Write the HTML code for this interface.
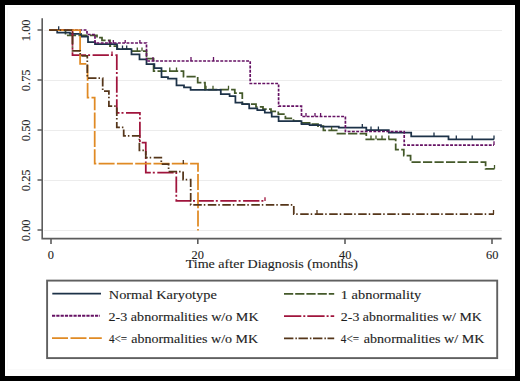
<!DOCTYPE html>
<html><head><meta charset="utf-8">
<style>
html,body{margin:0;padding:0;background:#000;width:520px;height:381px;overflow:hidden}
svg{display:block}
text{font-family:"Liberation Serif",serif;fill:#1e1e1e;stroke:#1e1e1e;stroke-width:0.12px}
</style></head>
<body>
<svg width="520" height="381" viewBox="0 0 520 381">
<rect x="0" y="0" width="520" height="381" fill="#000"/>
<rect x="5" y="5" width="510" height="371" fill="#fff"/>
<!-- faint outer frame -->
<rect x="7.5" y="7.5" width="505" height="362" fill="none" stroke="#fafafa" stroke-width="1"/>
<!-- gridlines -->
<g stroke="#ececec" stroke-width="1">
<line x1="44" y1="30.5" x2="502" y2="30.5"/>
<line x1="44" y1="80.5" x2="502" y2="80.5"/>
<line x1="44" y1="130.5" x2="502" y2="130.5"/>
<line x1="44" y1="180.5" x2="502" y2="180.5"/>
<line x1="44" y1="230.5" x2="502" y2="230.5"/>
</g>
<!-- axes -->
<g stroke="#5c5c5c" stroke-width="1.6" fill="none">
<path d="M42.2,18.3 V238.6 H501.6"/>
<path d="M37.5,30 H42 M37.5,80 H42 M37.5,130 H42 M37.5,180 H42 M37.5,230 H42"/>
<path d="M51,238.6 V244.1 M197.8,238.6 V244.1 M345,238.6 V244.1 M492,238.6 V244.1"/>
</g>
<!-- y labels -->
<g font-size="12.4" text-anchor="middle" style="stroke:none;fill:#333">
<text transform="translate(29.8,30.2) rotate(-90)" x="-11" textLength="21.8" lengthAdjust="spacingAndGlyphs" text-anchor="start">1.00</text>
<text transform="translate(29.8,80.2) rotate(-90)" x="-11" textLength="21.8" lengthAdjust="spacingAndGlyphs" text-anchor="start">0.75</text>
<text transform="translate(29.8,130.2) rotate(-90)" x="-11" textLength="21.8" lengthAdjust="spacingAndGlyphs" text-anchor="start">0.50</text>
<text transform="translate(29.8,180.2) rotate(-90)" x="-11" textLength="21.8" lengthAdjust="spacingAndGlyphs" text-anchor="start">0.25</text>
<text transform="translate(29.8,230.2) rotate(-90)" x="-11" textLength="21.8" lengthAdjust="spacingAndGlyphs" text-anchor="start">0.00</text>
</g>
<g font-size="12.4" text-anchor="middle" style="stroke:none;fill:#333">
<text x="50.9" y="259.3">0</text>
<text x="197.8" y="259.3">20</text>
<text x="345.3" y="259.3">40</text>
<text x="492.2" y="259.3">60</text>
</g>
<text x="185.7" y="268.4" font-size="12.7" textLength="172.3" lengthAdjust="spacingAndGlyphs">Time after Diagnosis (months)</text>

<!-- curves -->
<g fill="none" stroke-width="1.75" stroke-linejoin="miter" stroke-linecap="butt">
<!-- green 1 abnormality -->
<path stroke="#44592a" stroke-dasharray="9.2 2.3" d="M49.2,30 H65.5 V35.3 H97 V37.6 H102 V40.3 H110 V46.2 H117.3 V49.2 H131.5 V51.2 H146.5 V58.6 H153.6 V71.2 H183.5 V76.7 H197.7 V82.5 H205 V89.6 H234.8 V93.1 H242.3 V104.2 H256 V106.9 H263 V109.2 H271 V111.3 H278.3 V114.2 H285.4 V118.3 H293.5 V121.1 H301.5 V122.9 H309.6 V124.2 H318 V126 H323.4 V130.4 H337.5 V133.6 H366.3 V139.3 H395.7 V149.5 H403.8 V155.6 H410.6 V162.2 H485.6 V168.8 H494.5"/>
<!-- blue normal -->
<path stroke="#1d3248" d="M49.2,30 H57.2 V32.7 H70 V33.8 H81 V36.6 H88 V42.2 H95 V44.2 H117 V49.2 H131.5 V54.3 H139.5 V59.3 H146.5 V64.1 H154.4 V68 H161.5 V77.2 H168 V78.6 H176.5 V85.4 H184 V87.3 H190.6 V89.8 H220.8 V94 H229.6 V96 H235.4 V102.5 H242.3 V104 H249.2 V108.4 H257.3 V110.1 H264.8 V112.7 H271.7 V116.6 H278.6 V121 H301.5 V124 H309.6 V125.2 H321 V126.5 H338.8 V127.6 H366.3 V130.1 H388.8 V132.6 H411.2 V136.3 H448.5 V139.4 H494"/>
<!-- purple 2-3 w/o MK -->
<path stroke="#661264" stroke-width="1.7" stroke-dasharray="2.9 1.4" d="M49.2,30 H87 V34.5 H95 V43 H146.5 V61 H250.2 V83.5 H278.6 V106.2 H301.5 V116.5 H345.4 V131.5 H404.2 V145.1 H494"/>
<!-- red 2-3 w/ MK -->
<path stroke="#a0143c" stroke-dasharray="16.3 2 2 2.5" d="M49.2,30 H72.5 V55 H116.8 V112.8 H139.9 V142.7 H145.8 V172.7 H176.3 V200.9 H265"/>
<!-- orange 4<= w/o MK -->
<path stroke="#e08a24" stroke-dasharray="16 2.3" d="M49.2,30 H80.1 V63.8 H87.6 V97.5 H94.7 V163.6 H198 V230.5"/>
<!-- brown 4<= w/ MK -->
<path stroke="#55361a" stroke-dasharray="8.5 2 1.5 2.5" d="M49.2,30 H72.5 V50.8 H80.2 V55.8 H87.3 V78.2 H102.7 V91.2 H108.9 V106 H116.8 V127.3 H123.7 V135.8 H139.4 V150.3 H145.8 V157.5 H161.3 V164 H168.6 V171.6 H183.1 V179.5 H190.7 V204.9 H293.8 V214 H494"/>
</g>
<!-- censor ticks -->
<g stroke-width="1.3" fill="none">
<path stroke="#1d3248" d="M122.5,49.2 V45.5 M126.7,49.2 V45.5 M362.3,127.6 V124 M371,130.1 V126.5 M378.4,130.1 V126.5 M456.3,139.4 V135.5 M472.2,139.4 V135.5 M494,139.4 V135.5 M434,136.3 V132.5 M58.7,30 V26.3"/>
<path stroke="#661264" d="M109.2,43 V40 M113.3,43 V40 M125.2,43 V40 M139.9,43 V40 M153,61 V57 M191,61 V57 M213.5,61 V57 M306,116.5 V113 M315,116.5 V113 M320.6,116.5 V113 M494,145.1 V141.3"/>
<path stroke="#44592a" d="M331.6,130.4 V126.8 M371,139.3 V135.6 M376,139.3 V135.6 M382,139.3 V135.6 M388.8,139.3 V135.6 M137.3,51.2 V47.5 M142,51.2 V47.5 M169.8,71.2 V67.4 M176.5,71.2 V67.4 M206,89.6 V85.8 M213,89.6 V85.8 M228.5,89.6 V85.8 M494.5,168.8 V165"/>
<path stroke="#a0143c" d="M112,55 V51.5 M265,200.9 V197.2"/>
<path stroke="#55361a" d="M317,214 V210 M493.5,214 V210 M183.3,164 V160"/>
</g>

<!-- legend -->
<rect x="47.1" y="280.6" width="450.1" height="77.5" fill="none" stroke="#606060" stroke-width="1.9"/>
<g fill="none" stroke-width="1.8">
<path stroke="#1d3248" d="M52.3,293.7 H101"/>
<path stroke="#661264" stroke-width="2" stroke-dasharray="3.2 1.1" d="M52,315.8 H100"/>
<path stroke="#e08a24" stroke-dasharray="16 2.5" d="M52,338.2 H101.8"/>
<path stroke="#44592a" stroke-dasharray="9.2 2" d="M284,293.8 H334.2"/>
<path stroke="#a0143c" stroke-dasharray="17.3 2 2 2" d="M284,316.2 H334.2"/>
<path stroke="#55361a" stroke-dasharray="9.4 2 1.5 1.6" d="M284,338.4 H334.2"/>
</g>
<g font-size="12.7">
<text x="108.8" y="298.6" textLength="108" lengthAdjust="spacingAndGlyphs">Normal Karyotype</text>
<text x="108.5" y="321" textLength="150.1" lengthAdjust="spacingAndGlyphs">2-3 abnormalities w/o MK</text>
<text x="108.9" y="342.8" textLength="18.2" lengthAdjust="spacingAndGlyphs">4&lt;=</text>
<text x="131.2" y="342.8" textLength="127" lengthAdjust="spacingAndGlyphs">abnormalities w/o MK</text>
<text x="340.8" y="298.6" textLength="80.4" lengthAdjust="spacingAndGlyphs">1 abnormality</text>
<text x="340.8" y="321" textLength="141" lengthAdjust="spacingAndGlyphs">2-3 abnormalities w/ MK</text>
<text x="340.8" y="342.8" textLength="18.2" lengthAdjust="spacingAndGlyphs">4&lt;=</text>
<text x="363.7" y="342.8" textLength="120.8" lengthAdjust="spacingAndGlyphs">abnormalities w/ MK</text>
</g>
</svg>
</body></html>
